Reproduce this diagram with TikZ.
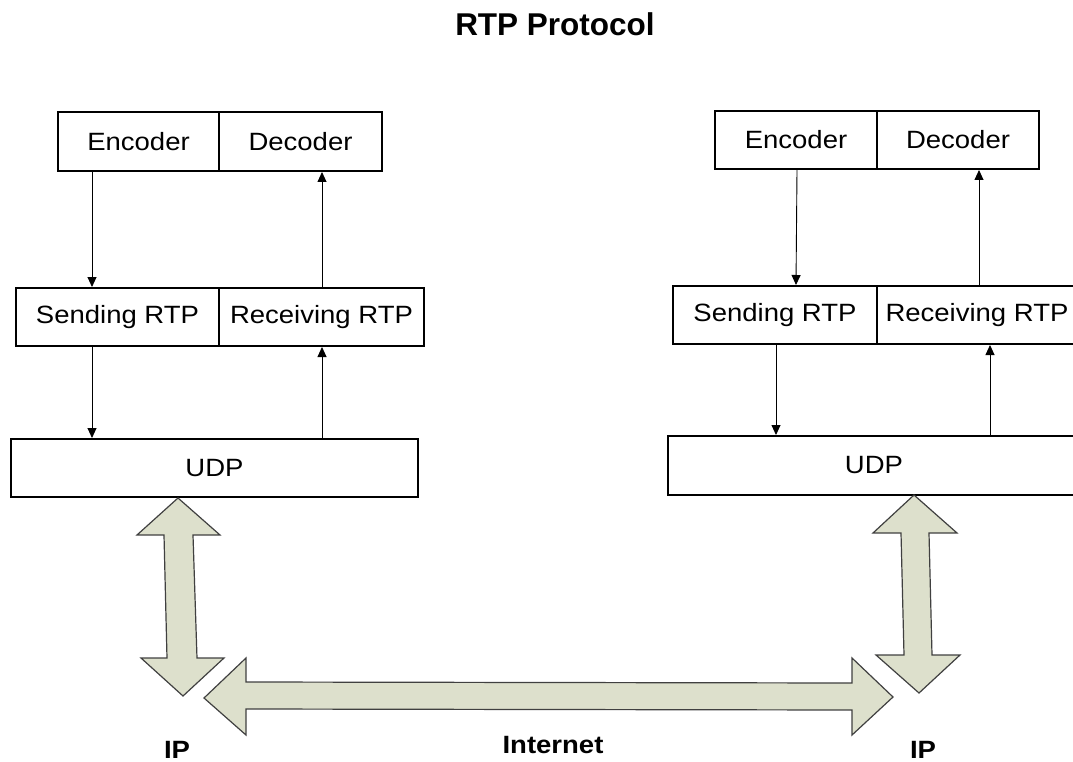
\documentclass[tikz,border=0pt]{standalone}
\usepackage{fontspec}
\setmainfont{Liberation Sans}[FakeStretch=1.1]
\newfontfamily\titlefont{Liberation Sans}[BoldFont=* Bold]
\usetikzlibrary{arrows.meta}
\definecolor{bigfill}{RGB}{221,224,204}
\definecolor{bigdraw}{RGB}{64,64,64}
\begin{document}
\begin{tikzpicture}[x=1pt,y=-1pt,
  layerbox/.style={draw=black,line width=2pt,inner sep=0pt,font=\fontsize{25}{28}\selectfont},
  flow/.style={line width=0.9pt,-{Triangle[length=10pt,width=9pt]}},
  bigarrow/.style={fill=bigfill,draw=bigdraw,line width=1.2pt,line join=miter},
  lbl/.style={font=\fontsize{25}{28}\selectfont\bfseries,anchor=base}]
\useasboundingbox (0,0) rectangle (1073,762);
% title
\node[anchor=base,font=\titlefont\fontsize{31.5}{34}\selectfont\bfseries] (title) at (555,36) {RTP Protocol};
% left stack
\node[layerbox,minimum width=161pt,minimum height=59pt] (encL) at (138.5,141.5) {Encoder};
\node[layerbox,minimum width=163pt,minimum height=59pt] (decL) at (300.5,141.5) {Decoder};
\node[layerbox,minimum width=203pt,minimum height=58pt] (sndL) at (117.5,317) {Sending RTP};
\node[layerbox,minimum width=205pt,minimum height=58pt] (rcvL) at (321.5,317) {Receiving RTP};
\node[layerbox,minimum width=407pt,minimum height=58pt] (udpL) at (214.5,468) {UDP};
% right stack
\node[layerbox,minimum width=162pt,minimum height=58pt] (encR) at (796,140) {Encoder};
\node[layerbox,minimum width=162pt,minimum height=58pt] (decR) at (958,140) {Decoder};
\node[layerbox,minimum width=204pt,minimum height=58pt] (sndR) at (775,315) {Sending RTP};
\node[layerbox,minimum width=200pt,minimum height=58pt] (rcvR) at (977,315) {Receiving RTP};
\node[layerbox,minimum width=412pt,minimum height=59pt] (udpR) at (874,465.5) {UDP};
% left flows
\draw[flow] (encL.south -| 92,0) -- (sndL.north -| 92,0);
\draw[flow] (rcvL.north -| 322,0) -- (decL.south -| 322,0);
\draw[flow] (sndL.south -| 92,0) -- (udpL.north -| 92,0);
\draw[flow] (udpL.north -| 322,0) -- (rcvL.south -| 322,0);
% right flows
\draw[flow] (encR.south -| 797,0) -- (sndR.north -| 796,0);
\draw[flow] (rcvR.north -| 979,0) -- (decR.south -| 979,0);
\draw[flow] (sndR.south -| 776,0) -- (udpR.north -| 776,0);
\draw[flow] (udpR.north -| 990,0) -- (rcvR.south -| 990,0);
% big double arrows
\draw[bigarrow] (178,498) -- (220,535) -- (193,535) -- (197,658) -- (224,658) -- (183,696)
  -- (141,658) -- (167,658) -- (164,535) -- (137,535) -- cycle;
\draw[bigarrow] (204,698) -- (246,658) -- (246,682) -- (852,683) -- (852,658) -- (893,697)
  -- (852,735) -- (852,710) -- (246,709) -- (246,735) -- cycle;
\draw[bigarrow] (914,495) -- (957,533) -- (929,533) -- (932,655) -- (960,655) -- (919,693)
  -- (876,655) -- (904,655) -- (901,533) -- (873,533) -- cycle;
% labels
\node[lbl] (ipL) at (177,758) {IP};
\node[lbl] (inet) at (553,753) {Internet};
\node[lbl] (ipR) at (923,758) {IP};
\end{tikzpicture}
\end{document}
